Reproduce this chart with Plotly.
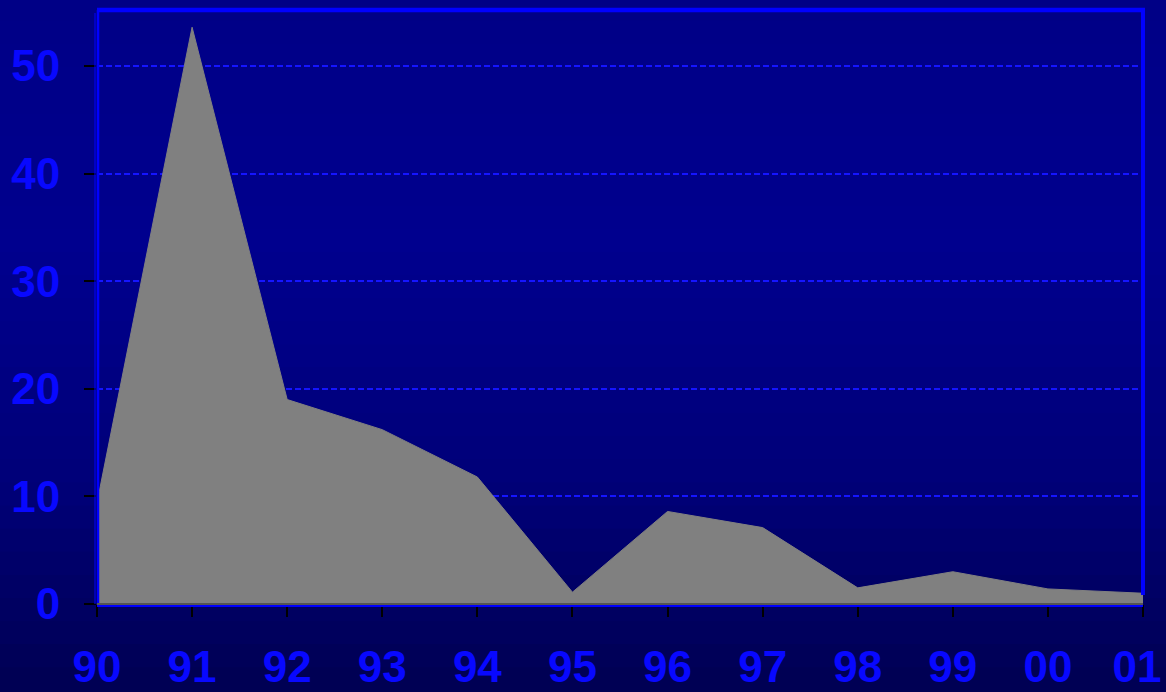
import plotly.graph_objects as go

years = ["90", "91", "92", "93", "94", "95", "96", "97", "98", "99", "00", "01"]
values = [9.4, 53.6, 19.0, 16.2, 11.8, 1.1, 8.6, 7.1, 1.5, 3.0, 1.4, 1.0]
y_ticks = [0, 10, 20, 30, 40, 50]

xpos = list(range(len(years)))
# last label nudged left slightly so it stays inside the page, as in the reference
tick_text = years[:-1] + [years[-1] + "\u00a0"]

fig = go.Figure()
fig.add_trace(go.Scatter(
    x=xpos, y=values, mode="lines", fill="tozeroy",
    fillcolor="#808080", line=dict(color="#808080", width=1),
    hoverinfo="skip", showlegend=False,
))

W, H = 1166, 692
ml, mr, mt, mb = 97, 23, 10, 88
pw = W - ml - mr
ph = H - mt - mb

# background gradient bands (paper coordinates)
n = 30
stops = [(0.0, 0x86), (0.35, 0x8E), (0.7, 0x78), (1.0, 0x52)]
def blue_at(t):
    for (t0, c0), (t1, c1) in zip(stops[:-1], stops[1:]):
        if t0 <= t <= t1:
            return round(c0 + (c1 - c0) * (t - t0) / (t1 - t0))
    return stops[-1][1]

y_lo = -mb / ph
y_hi = 1 + mt / ph
x_lo = -ml / pw
x_hi = 1 + mr / pw
shapes = []
for i in range(n):
    t = (i + 0.5) / n
    b = blue_at(t)
    y1 = y_hi - (y_hi - y_lo) * i / n
    y0 = y_hi - (y_hi - y_lo) * (i + 1) / n
    shapes.append(dict(type="rect", xref="paper", yref="paper",
                       x0=x_lo, x1=x_hi, y0=y0 - 0.003, y1=y1 + 0.003,
                       fillcolor=f"rgb(0,0,{b})", line=dict(width=0), layer="below"))
# plot border
px = 1 / pw
py = 1 / ph
shapes.append(dict(type="line", xref="paper", yref="paper", x0=0, x1=1 + 2 * px, y0=1, y1=1,
                   line=dict(color="#0000FF", width=4.5), layer="above"))
shapes.append(dict(type="line", xref="paper", yref="paper", x0=1, x1=1, y0=0.015, y1=1,
                   line=dict(color="#0000FF", width=4), layer="above"))
shapes.append(dict(type="line", xref="paper", yref="paper", x0=1 * px, x1=1 * px, y0=0, y1=1,
                   line=dict(color="#0000FF", width=2.5), layer="above"))
shapes.append(dict(type="line", xref="paper", yref="paper", x0=-2 * px, x1=-2 * px, y0=0, y1=1 - 3 * py,
                   line=dict(color="#0000FF", width=1), layer="above"))
shapes.append(dict(type="line", xref="paper", yref="paper", x0=0, x1=1, y0=-2 * py, y1=-2 * py,
                   line=dict(color="#0000FF", width=2), layer="above"))
shapes.append(dict(type="line", xref="paper", yref="paper", x0=0, x1=1, y0=0, y1=0,
                   line=dict(color="#555555", width=2), layer="above"))

tick_font = dict(size=44, color="#0808FF", family="Liberation Sans, Arial, sans-serif", weight="bold")

fig.update_layout(
    width=W, height=H,
    margin=dict(l=ml, r=mr, t=mt, b=mb, autoexpand=False),
    paper_bgcolor="#000070",
    plot_bgcolor="rgba(0,0,0,0)",
    shapes=shapes,
    font=dict(family="Liberation Sans, Arial, sans-serif", color="#0808FF", size=44),
    xaxis=dict(
        range=[0, len(years) - 1], tickmode="array", tickvals=xpos, ticktext=tick_text,
        ticks="outside", ticklen=12, tickwidth=2, tickcolor="#000000",
        showgrid=False, zeroline=False, showline=False, automargin=False,
        tickfont=tick_font, ticklabelstandoff=12, ticklabeloverflow="allow",
    ),
    yaxis=dict(
        range=[0, 55.2], tickmode="array", tickvals=y_ticks,
        ticks="outside", ticklen=12, tickwidth=2, tickcolor="#000000",
        showgrid=True, gridcolor="#1515FF", griddash="6px,3px", gridwidth=1.5,
        zeroline=False, showline=False, automargin=False,
        tickfont=tick_font, ticklabelstandoff=15, ticklabeloverflow="allow",
    ),
)

fig.write_html(
    "out.html",
    config={"displayModeBar": False},
    post_script="document.body.style.margin='0';document.body.style.overflow='hidden';",
)
